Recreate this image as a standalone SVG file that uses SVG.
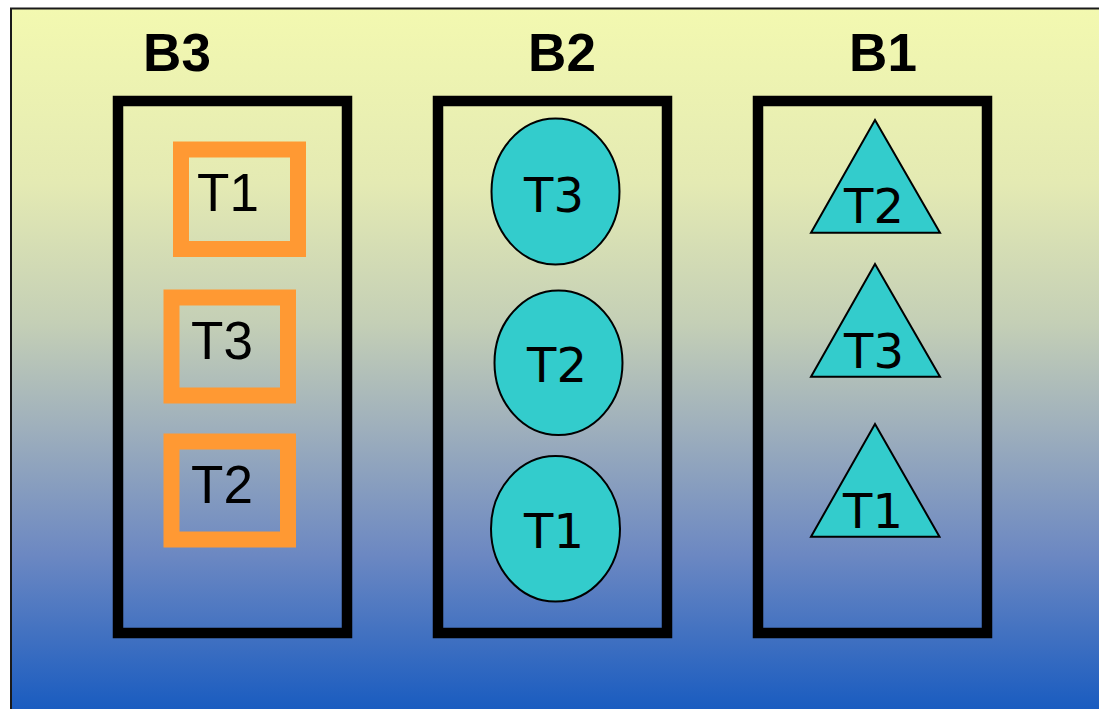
<svg xmlns="http://www.w3.org/2000/svg" width="1099" height="709" viewBox="0 0 1099 709">
  <defs>
    <linearGradient id="bg" x1="0" y1="8" x2="0" y2="709" gradientUnits="userSpaceOnUse">
      <stop offset="0" stop-color="#F3F9B0"/>
      <stop offset="0.25" stop-color="#E4EAB3"/>
      <stop offset="0.45" stop-color="#C4CFB6"/>
      <stop offset="0.6" stop-color="#9EAFBC"/>
      <stop offset="0.78" stop-color="#6C88C2"/>
      <stop offset="1" stop-color="#1A5CC0"/>
    </linearGradient>
    <style>
      .bin { fill: none; stroke: #000; stroke-width: 10.5; }
      .title { font-family: "Liberation Sans", Arial, sans-serif; font-weight: bold; font-size: 53px; fill: #000; text-anchor: middle; }
      .sq { fill: none; stroke: #FF9933; stroke-width: 16; }
      .sqlabel { font-family: "Liberation Sans", Arial, sans-serif; font-size: 53px; fill: #000; text-anchor: middle; }
      .tok { fill: #33CCCC; stroke: #000; stroke-width: 2; }
      .toklabel { font-family: "DejaVu Sans", Verdana, sans-serif; font-size: 48px; fill: #000; text-anchor: middle; }
    </style>
  </defs>

  <!-- page background -->
  <rect x="0" y="0" width="1099" height="709" fill="#FFFFFF"/>
  <rect x="11" y="8.5" width="1100" height="720" fill="url(#bg)" stroke="#1a1a1a" stroke-width="2"/>

  <!-- bin B3 with square tokens -->
  <g id="B3">
    <text class="title" x="177" y="71">B3</text>
    <rect class="bin" x="118" y="101" width="229" height="532"/>
  </g>
  <g id="B3-T1">
    <rect class="sq" x="181" y="149.5" width="117" height="99.5"/>
    <text class="sqlabel" x="228" y="211">T1</text>
  </g>
  <g id="B3-T3">
    <rect class="sq" x="171.5" y="297.5" width="116.5" height="98"/>
    <text class="sqlabel" x="222" y="359">T3</text>
  </g>
  <g id="B3-T2">
    <rect class="sq" x="171.5" y="441.5" width="116.5" height="98"/>
    <text class="sqlabel" x="222" y="503">T2</text>
  </g>

  <!-- bin B2 with round tokens -->
  <g id="B2">
    <text class="title" x="562" y="71">B2</text>
    <rect class="bin" x="438" y="101" width="229" height="532"/>
  </g>
  <g id="B2-T3">
    <ellipse class="tok" cx="555.5" cy="191.5" rx="64" ry="73"/>
    <text class="toklabel" x="554" y="212">T3</text>
  </g>
  <g id="B2-T2">
    <ellipse class="tok" cx="558.5" cy="362.7" rx="64" ry="72.3"/>
    <text class="toklabel" x="557" y="381.5">T2</text>
  </g>
  <g id="B2-T1">
    <ellipse class="tok" cx="555.5" cy="528.8" rx="64.5" ry="72.8"/>
    <text class="toklabel" x="554" y="548">T1</text>
  </g>

  <!-- bin B1 with triangular tokens -->
  <g id="B1">
    <text class="title" x="883" y="71">B1</text>
    <rect class="bin" x="758" y="101" width="229" height="532"/>
  </g>
  <g id="B1-T2">
    <polygon class="tok" points="875,120 940,232.7 811,232.7"/>
    <text class="toklabel" x="874" y="223.3">T2</text>
  </g>
  <g id="B1-T3">
    <polygon class="tok" points="875,264 940,376.7 811,376.7"/>
    <text class="toklabel" x="874" y="368.3">T3</text>
  </g>
  <g id="B1-T1">
    <polygon class="tok" points="875,424 939.5,536.7 811,536.7"/>
    <text class="toklabel" x="873" y="527.7">T1</text>
  </g>

  <!-- no connectors in this figure -->
  <g id="connectors"/>
</svg>
